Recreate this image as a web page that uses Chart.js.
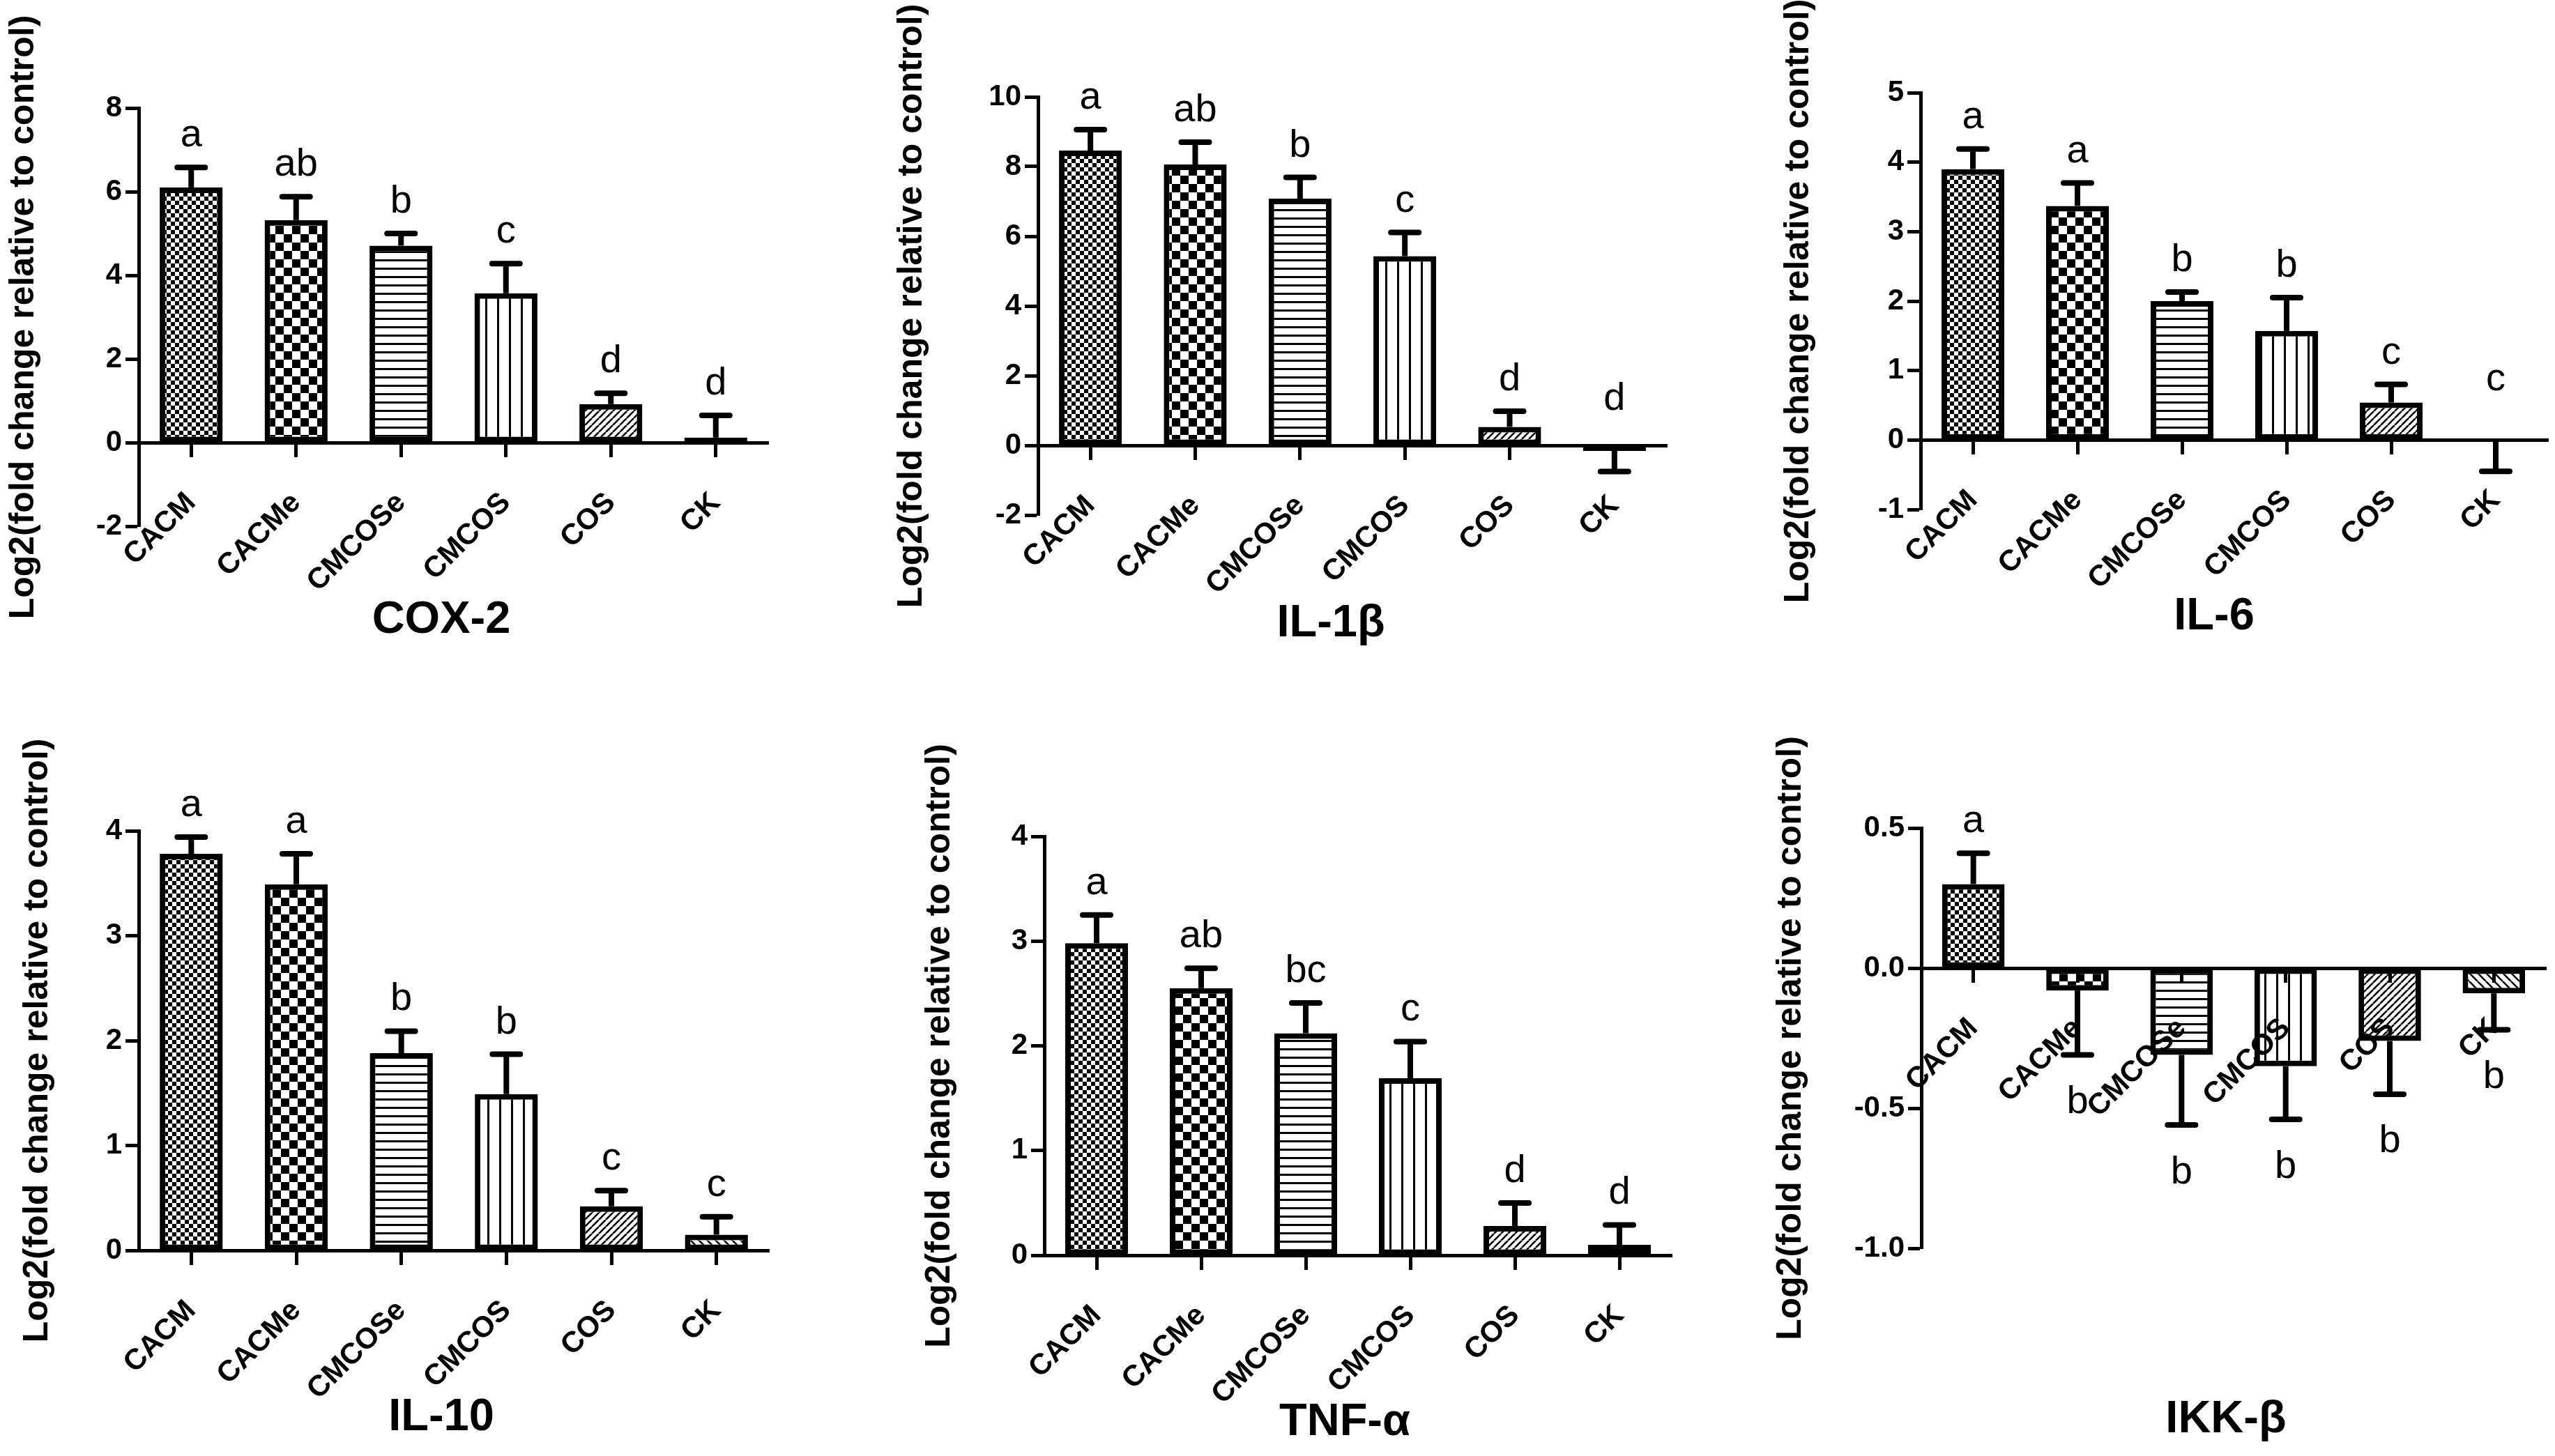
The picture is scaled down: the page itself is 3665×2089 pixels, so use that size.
<!DOCTYPE html>
<html><head><meta charset="utf-8">
<script src="https://cdn.jsdelivr.net/npm/chart.js@4.4.0/dist/chart.umd.min.js"></script>
<style>
html,body{margin:0;padding:0;background:#fff;}
#page{position:relative;width:3665px;height:2089px;overflow:hidden;background:#fff;}
#page canvas{position:absolute;}
.ptitle{position:absolute;width:600px;text-align:center;font-family:'Liberation Sans',Arial,sans-serif;font-weight:bold;font-size:65px;line-height:80px;color:#000;white-space:nowrap;}
</style></head><body><div id="page"></div>
<script>
// ---------- data ----------
const categories = ['CACM', 'CACMe', 'CMCOSe', 'CMCOS', 'COS', 'CK'];
const yAxisLabel = 'Log2(fold change relative to control)';

const cox2Mean = [6.10, 5.32, 4.71, 3.57, 0.92, 0.12];
const cox2Err  = [0.48, 0.56, 0.29, 0.71, 0.26, 0.53];
const cox2Letters = ['a', 'ab', 'b', 'c', 'd', 'd'];
const cox2Ticks = [-2, 0, 2, 4, 6, 8];

const il1bMean = [8.46, 8.06, 7.08, 5.43, 0.53, -0.16];
const il1bErr  = [0.60, 0.64, 0.61, 0.68, 0.45, 0.59];
const il1bLetters = ['a', 'ab', 'b', 'c', 'd', 'd'];
const il1bTicks = [-2, 0, 2, 4, 6, 8, 10];

const il6Mean = [3.90, 3.37, 2.00, 1.57, 0.54, -0.02];
const il6Err  = [0.29, 0.33, 0.13, 0.48, 0.26, 0.43];
const il6Letters = ['a', 'a', 'b', 'b', 'c', 'c'];
const il6Ticks = [-1, 0, 1, 2, 3, 4, 5];

const il10Mean = [3.78, 3.49, 1.88, 1.49, 0.42, 0.15];
const il10Err  = [0.16, 0.29, 0.21, 0.38, 0.15, 0.17];
const il10Letters = ['a', 'a', 'b', 'b', 'c', 'c'];
const il10Ticks = [0, 1, 2, 3, 4];

const tnfMean = [2.98, 2.55, 2.12, 1.69, 0.28, 0.10];
const tnfErr  = [0.27, 0.19, 0.29, 0.35, 0.22, 0.19];
const tnfLetters = ['a', 'ab', 'bc', 'c', 'd', 'd'];
const tnfTicks = [0, 1, 2, 3, 4];

const ikkMean = [0.30, -0.08, -0.31, -0.35, -0.26, -0.09];
const ikkErr  = [0.11, 0.23, 0.25, 0.19, 0.19, 0.13];
const ikkLetters = ['a', 'b', 'b', 'b', 'b', 'b'];
const ikkTicks = [-1.0, -0.5, 0.0, 0.5];

// ---------- styling ----------
const FONT = "'Liberation Sans', Arial, sans-serif";
Chart.defaults.font.family = FONT;
Chart.defaults.color = '#000';

function makePattern(kind) {
  const c = document.createElement('canvas');
  let x;
  if (kind === 'fineCheck' || kind === 'coarseCheck') {
    const cell = kind === 'fineCheck' ? 6 : 12;
    c.width = c.height = cell * 2;
    x = c.getContext('2d');
    x.fillStyle = '#fff'; x.fillRect(0, 0, cell * 2, cell * 2);
    x.fillStyle = '#000'; x.fillRect(0, 0, cell, cell); x.fillRect(cell, cell, cell, cell);
  } else if (kind === 'hLines') {
    c.width = 8; c.height = 12;
    x = c.getContext('2d');
    x.fillStyle = '#fff'; x.fillRect(0, 0, 8, 12);
    x.fillStyle = '#000'; x.fillRect(0, 0, 8, 3);
  } else if (kind === 'vLines') {
    c.width = 17; c.height = 8;
    x = c.getContext('2d');
    x.fillStyle = '#fff'; x.fillRect(0, 0, 17, 8);
    x.fillStyle = '#000'; x.fillRect(0, 0, 3, 8);
  } else {
    const s = kind === 'diagUp' ? 10 : 12;
    c.width = c.height = s;
    x = c.getContext('2d');
    x.fillStyle = '#fff'; x.fillRect(0, 0, s, s);
    x.strokeStyle = '#000'; x.lineWidth = 2.6;
    for (let k = -1; k <= 1; k++) {
      x.beginPath();
      if (kind === 'diagUp') { x.moveTo(k * s, s); x.lineTo(k * s + s, 0); }
      else { x.moveTo(k * s, 0); x.lineTo(k * s + s, s); }
      x.stroke();
    }
  }
  return document.createElement('canvas').getContext('2d').createPattern(c, 'repeat');
}
const barFills = ['fineCheck', 'coarseCheck', 'hLines', 'vLines', 'diagUp', 'diagDown'].map(makePattern);

const panels = [
  {title: 'COX-2', mean: cox2Mean, err: cox2Err, letters: cox2Letters, ticks: cox2Ticks, dec: 0,
   box: {L: 199, R: 1102, T: 155, B: 755}, yTitleX: 34, titleX: 633, titleY: 886, top: 0, h: 1000, below: false},
  {title: 'IL-1β', mean: il1bMean, err: il1bErr, letters: il1bLetters, ticks: il1bTicks, dec: 0,
   box: {L: 1489, R: 2391, T: 139, B: 739}, yTitleX: 1308, titleX: 1909, titleY: 891, top: 0, h: 1000, below: false},
  {title: 'IL-6', mean: il6Mean, err: il6Err, letters: il6Letters, ticks: il6Ticks, dec: 0,
   box: {L: 2755, R: 3655, T: 133, B: 731}, yTitleX: 2580, titleX: 3176, titleY: 881, top: 0, h: 1000, below: false},
  {title: 'IL-10', mean: il10Mean, err: il10Err, letters: il10Letters, ticks: il10Ticks, dec: 0,
   box: {L: 199, R: 1103, T: 1192, B: 1794}, yTitleX: 54, titleX: 633, titleY: 2030, top: 1000, h: 1089, below: false},
  {title: 'TNF-α', mean: tnfMean, err: tnfErr, letters: tnfLetters, ticks: tnfTicks, dec: 0,
   box: {L: 1498, R: 2398, T: 1200, B: 1801}, yTitleX: 1348, titleX: 1929, titleY: 2037, top: 1000, h: 1089, below: false},
  {title: 'IKK-β', mean: ikkMean, err: ikkErr, letters: ikkLetters, ticks: ikkTicks, dec: 1,
   box: {L: 2756, R: 3652, T: 1188, B: 1791}, yTitleX: 2569, titleX: 3193, titleY: 2033, top: 1000, h: 1089, below: true}
];

const errLettersPlugin = {
  id: 'errLetters',
  afterDatasetsDraw(chart, args, opts) {
    const p = opts.panel;
    const ctx = chart.ctx, ys = chart.scales.y, meta = chart.getDatasetMeta(0);
    ctx.save();
    ctx.strokeStyle = '#000'; ctx.fillStyle = '#000';
    meta.data.forEach((bar, i) => {
      const v = p.mean[i], e = p.err[i];
      const dir = v < 0 ? -1 : 1;
      const y0 = ys.getPixelForValue(v), y1 = ys.getPixelForValue(v + dir * e);
      const x = bar.x;
      ctx.lineWidth = 8;
      ctx.lineCap = 'butt';
      ctx.beginPath(); ctx.moveTo(x, y0); ctx.lineTo(x, y1); ctx.stroke();
      ctx.lineCap = 'round';
      ctx.beginPath(); ctx.moveTo(x - 20, y1); ctx.lineTo(x + 20, y1); ctx.stroke();
      ctx.font = '56px ' + FONT;
      ctx.textAlign = 'center';
      if (p.below && v < 0) {
        ctx.textBaseline = 'top';
        ctx.fillText(p.letters[i], x, ys.getPixelForValue(v - e) + 40);
      } else {
        ctx.textBaseline = 'alphabetic';
        ctx.fillText(p.letters[i], x, ys.getPixelForValue(v + e) - 30);
      }
    });
    ctx.restore();
  }
};

const page = document.getElementById('page');
panels.forEach(p => {
  const cl = p.yTitleX - 35;
  const cr = Math.min(p.box.R + 12, 3665);
  const cw = cr - cl, ch = p.h, ct = p.top;
  const cv = document.createElement('canvas');
  cv.width = cw; cv.height = ch;
  cv.style.left = cl + 'px'; cv.style.top = ct + 'px';
  page.appendChild(cv);
  const yW = p.box.L - (cl + 5);
  const tmin = Math.min(...p.ticks), tmax = Math.max(...p.ticks);
  new Chart(cv.getContext('2d'), {
    type: 'bar',
    data: {
      labels: categories,
      datasets: [{
        data: p.mean,
        backgroundColor: barFills,
        borderColor: '#000',
        borderWidth: 8,
        borderSkipped: false,
        barPercentage: 0.6,
        categoryPercentage: 1
      }]
    },
    options: {
      responsive: false,
      animation: false,
      devicePixelRatio: 1,
      layout: {padding: {left: 5, top: p.box.T - ct, right: cr - p.box.R, bottom: ct + ch - p.box.B}},
      plugins: {legend: {display: false}, tooltip: {enabled: false}, errLetters: {panel: p}},
      scales: {
        x: {
          type: 'category',
          position: {y: 0},
          offset: true,
          grid: {display: true, drawOnChartArea: false, drawTicks: true, tickLength: 18, tickWidth: 5, tickColor: '#000', offset: false, z: 1},
          border: {display: true, width: 5, color: '#000', z: 1},
          ticks: {color: '#000', font: {size: 42, weight: 'bold'}, minRotation: 45, maxRotation: 45, padding: 44, autoSkip: false, z: 1},
          afterFit(s) { s.height = 0; }
        },
        y: {
          min: tmin, max: tmax,
          afterBuildTicks(s) { s.ticks = p.ticks.map(v => ({value: v})); },
          ticks: {color: '#000', font: {size: 42, weight: 'bold'}, padding: 5,
                  callback: v => p.dec ? Number(v).toFixed(p.dec) : String(v)},
          grid: {drawOnChartArea: false, drawTicks: true, tickLength: 19, tickWidth: 5, tickColor: '#000'},
          border: {display: true, width: 5, color: '#000'},
          title: {display: true, text: yAxisLabel, color: '#000', font: {size: 50, weight: 'bold'}, padding: 0},
          afterFit(s) { s.width = yW; }
        }
      }
    },
    plugins: [errLettersPlugin]
  });
  const t = document.createElement('div');
  t.className = 'ptitle';
  t.textContent = p.title;
  t.style.left = (p.titleX - 300) + 'px';
  t.style.top = (p.titleY - 40) + 'px';
  page.appendChild(t);
});
</script>
</body></html>
